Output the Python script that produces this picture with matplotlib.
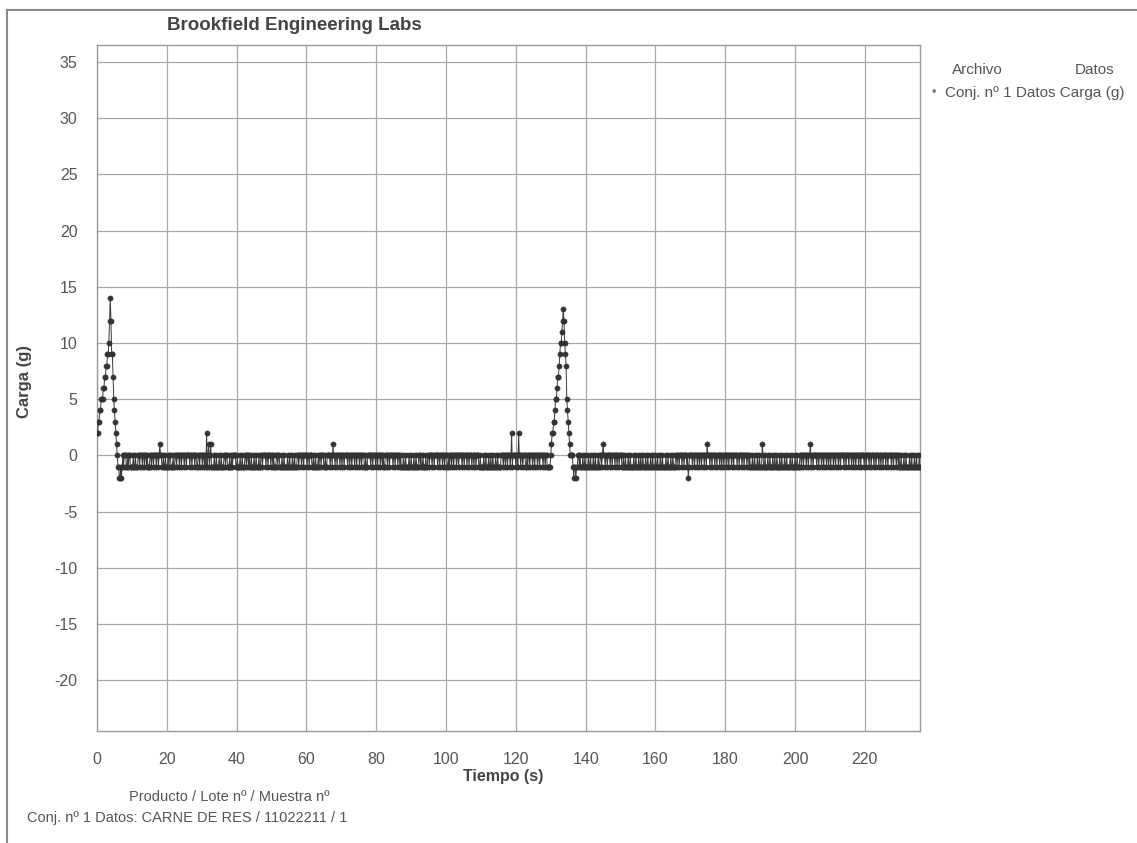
import matplotlib
matplotlib.use("Agg")
import matplotlib.pyplot as plt
from matplotlib.lines import Line2D
import numpy as np

plt.rcParams['font.family'] = ['Liberation Sans', 'DejaVu Sans']
plt.rcParams['axes.unicode_minus'] = False

# muestreo del texturometro
PASO = 0.2          # s
T_FIN = 235.8       # s

# primer pico de carga (empieza en t = 0)
PICO1 = [2, 2, 3, 3, 4, 4, 5, 5, 5, 6, 6, 7, 7, 8, 8, 9, 9, 10, 12, 14,
         12, 9, 9, 7, 5, 4, 3, 2, 1, 0, -1, -1, -2, -2, -1, -2, -1]

# segundo pico de carga
T_PICO2 = 129.0
PICO2 = [-1, -1, -1, -1, -1,
         0, 1, 2, 2, 3, 3, 4, 5, 5, 6, 7, 7, 8, 9, 10, 10, 11, 12, 13,
         12, 10, 9, 8, 5, 4, 3, 2, 1, 0, 0, 0, 0, -1, -2, -1, -1, -2, -1]

# ruido de linea base: longitudes de tramos alternando 0 g / -1 g
BASE_TRAMOS = (
    "2121312213121412213121321124121321312121"
    "1321213121421213112312213121312141213122"
    "2131211321241213121321231211421312132121"
    "1213121312214121312113212312141213121321"
    "3121412132121311213212412131213121214121"
    "2131213121321241213121312112312141213121"
    "1312141213121321121312213121412131213211"
    "2121312141213121312121321412131212131214"
    "3121213121412131213211213121312141213121"
    "1213121321412131212131211312141213121312"
    "2141213121312121321213121412131212131213"
    "1213121312141213121321213121312141213121"
    "2131214121312131212131213121412131213121"
    "1312131214121312131212131213121412131213"
    "2121312131214121312131212131213121412131"
    "3121213121412131213121312121312141213121"
    "1213121412131213121213121312141213121312"
    "2131213121412131212131213121412131213121"
)

# picos aislados sobre la linea base
EVENTO_T = [18.0, 31.4, 32.0, 32.6, 67.6, 118.8, 120.8, 145.0, 169.4, 174.8, 190.6, 204.4]
EVENTO_V = [1, 2, 1, 1, 1, 2, 2, 1, -2, 1, 1, 1]

# ejes
X_TICKS = [0, 20, 40, 60, 80, 100, 120, 140, 160, 180, 200, 220]
Y_TICKS = [35, 30, 25, 20, 15, 10, 5, 0, -5, -10, -15, -20]


def serie():
    n = int(round(T_FIN / PASO)) + 1
    base = []
    valor = 0
    for c in BASE_TRAMOS:
        base.extend([valor] * int(c))
        valor = -1 if valor == 0 else 0
    carga = np.array(base[:n], dtype=float)
    carga[:len(PICO1)] = PICO1
    i0 = int(round(T_PICO2 / PASO))
    carga[i0:i0 + len(PICO2)] = PICO2
    for t, v in zip(EVENTO_T, EVENTO_V):
        carga[int(round(t / PASO))] = v
    tiempo = np.arange(len(carga)) * PASO
    return tiempo, carga


def main():
    W, H = 1137, 843
    fig = plt.figure(figsize=(W / 100, H / 100), dpi=100)
    ax = fig.add_axes([97 / W, 1 - 731 / H, (920 - 97) / W, (731 - 45) / H])

    tiempo, carga = serie()
    ax.plot(tiempo, carga, color='#3a3a3a', lw=0.7, marker='o', ms=3.8,
            mfc='#333333', mec='#333333', mew=0.3, zorder=3)

    ax.set_xlim(0, T_FIN)
    ax.set_ylim(-24.5, 36.5)
    ax.set_xticks(X_TICKS)
    ax.set_yticks(Y_TICKS)
    ax.grid(True, color='#a8a8a8', lw=0.9)
    ax.tick_params(length=0, labelsize=11.5, labelcolor='#555555')
    ax.tick_params(axis='x', pad=15)
    ax.tick_params(axis='y', pad=14)
    for s in ax.spines.values():
        s.set_color('#9a9a9a')
        s.set_linewidth(1.0)

    fig.text(294 / W, 1 - 26 / H, "Brookfield Engineering Labs", ha='center', va='center',
             fontsize=13.5, fontweight='bold', color='#444444')
    fig.text(25 / W, 1 - 381 / H, "Carga (g)", ha='center', va='center', rotation=90,
             fontsize=12, fontweight='bold', color='#444444')
    fig.text(503 / W, 1 - 776 / H, "Tiempo (s)", ha='center', va='center',
             fontsize=11.5, fontweight='bold', color='#444444')

    # leyenda
    fig.text(952 / W, 1 - 70 / H, "Archivo", ha='left', va='center', fontsize=11, color='#555555')
    fig.text(1075 / W, 1 - 70 / H, "Datos", ha='left', va='center', fontsize=11, color='#555555')
    fig.text(932 / W, 1 - 93 / H, "•", ha='left', va='center', fontsize=9, color='#777777')
    fig.text(945 / W, 1 - 93 / H, "Conj. nº 1 Datos Carga (g)", ha='left', va='center',
             fontsize=11, color='#555555')

    # pie
    fig.text(229 / W, 1 - 797 / H, "Producto / Lote nº / Muestra nº", ha='center', va='center',
             fontsize=10.5, color='#555555')
    fig.text(27 / W, 1 - 818 / H, "Conj. nº 1 Datos: CARNE DE RES / 11022211 / 1", ha='left',
             va='center', fontsize=10.5, color='#555555')

    # marco exterior
    fig.add_artist(Line2D([7 / W, 1.0], [1 - 10 / H, 1 - 10 / H], transform=fig.transFigure,
                          color='#8a8a8a', lw=1.5))
    fig.add_artist(Line2D([7 / W, 7 / W], [0.0, 1 - 10 / H], transform=fig.transFigure,
                          color='#8a8a8a', lw=1.5))

    fig.savefig("out.png", dpi=100)


if __name__ == '__main__':
    main()
